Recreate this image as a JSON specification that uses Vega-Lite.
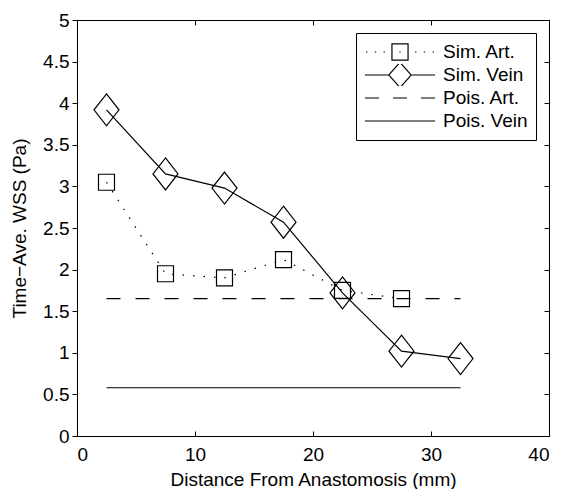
{
  "$schema": "https://vega.github.io/schema/vega-lite/v6.json",
  "width": 472,
  "height": 416,
  "autosize": {"type": "none"},
  "padding": {"left": 77, "top": 20, "right": 12, "bottom": 53},
  "background": "white",
  "config": {
    "view": {"stroke": "black", "strokeWidth": 1},
    "font": "Liberation Sans",
    "axis": {"grid": false, "domainColor": "black", "tickColor": "black", "labelColor": "black", "titleColor": "black", "labelFont": "Liberation Sans", "titleFont": "Liberation Sans", "labelFontSize": 19, "titleFontSize": 19, "titleFontWeight": "normal", "domainWidth": 1, "tickWidth": 1}
  },
  "data": {
    "values": [
      {"series": "Sim. Art.", "x": 2.5, "y": 3.05},
      {"series": "Sim. Art.", "x": 7.5, "y": 1.95},
      {"series": "Sim. Art.", "x": 12.5, "y": 1.9},
      {"series": "Sim. Art.", "x": 17.5, "y": 2.12},
      {"series": "Sim. Art.", "x": 22.5, "y": 1.75},
      {"series": "Sim. Art.", "x": 27.5, "y": 1.65},
      {"series": "Sim. Vein", "x": 2.5, "y": 3.92},
      {"series": "Sim. Vein", "x": 7.5, "y": 3.15},
      {"series": "Sim. Vein", "x": 12.5, "y": 2.98},
      {"series": "Sim. Vein", "x": 17.5, "y": 2.57},
      {"series": "Sim. Vein", "x": 22.5, "y": 1.72},
      {"series": "Sim. Vein", "x": 27.5, "y": 1.02},
      {"series": "Sim. Vein", "x": 32.5, "y": 0.93},
      {"series": "Pois. Art.", "x": 2.5, "y": 1.65},
      {"series": "Pois. Art.", "x": 32.5, "y": 1.65},
      {"series": "Pois. Vein", "x": 2.5, "y": 0.58},
      {"series": "Pois. Vein", "x": 32.5, "y": 0.58}
    ]
  },
  "resolve": {"axis": {"x": "independent", "y": "independent"}},
  "layer": [
    {
      "transform": [{"filter": "datum.series === 'Sim. Vein' || datum.series === 'Pois. Vein'"}],
      "mark": {"type": "line", "strokeWidth": 1.2},
      "encoding": {
        "x": {"field": "x", "type": "quantitative", "scale": {"domain": [0, 40], "nice": false, "zero": false},
              "axis": {"orient": "bottom", "values": [0, 10, 20, 30, 40], "format": "d", "tickSize": -5, "labelPadding": 14, "title": "Distance From Anastomosis (mm)", "titlePadding": 6}},
        "y": {"field": "y", "type": "quantitative", "scale": {"domain": [0, 5], "nice": false, "zero": false},
              "axis": {"orient": "left", "values": [0, 0.5, 1, 1.5, 2, 2.5, 3, 3.5, 4, 4.5, 5], "format": "~g", "tickSize": 5, "labelPadding": 3, "title": "Time−Ave. WSS (Pa)", "titlePadding": 13}},
        "stroke": {
          "field": "series", "type": "nominal",
          "scale": {"domain": ["Sim. Art.", "Sim. Vein", "Pois. Art.", "Pois. Vein"], "range": ["black", "black", "black", "black"]},
          "legend": {
            "title": null,
            "orient": "top-right",
            "offset": 13,
            "padding": 8,
            "fillColor": "white",
            "strokeColor": "black",
            "symbolSize": 4900,
            "clipHeight": 22,
            "rowPadding": 1,
            "labelOffset": 7,
            "labelFont": "Liberation Sans",
            "labelFontSize": 19,
            "labelColor": "black",
            "symbolStrokeWidth": 1.2,
            "encode": {
              "symbols": {
                "update": {
                  "shape": {"signal": "datum.value === 'Sim. Art.' ? 'M-0.97,0h0.04M-0.72,0h0.04M-0.47,0h0.04M-0.02,0h0.04M0.43,0h0.04M0.68,0h0.04M0.93,0h0.04M-0.23,-0.23H0.23V0.23H-0.23Z' : datum.value === 'Sim. Vein' ? 'M-1,0H-0.32M0.32,0H1M0,-0.36L0.32,0L0,0.36L-0.32,0Z' : datum.value === 'Pois. Art.' ? 'M-1,0H-0.6M-0.2,0H0.2M0.6,0H1' : 'M-1,0H1'"},
                  "fill": {"value": "transparent"},
                  "strokeWidth": {"value": 1.2},
                  "strokeDash": {"value": [1, 0]},
                  "size": {"value": 4900}
                }
              }
            }
          }
        }
      }
    },
    {
      "transform": [{"filter": "datum.series === 'Sim. Art.'"}],
      "mark": {"type": "line", "stroke": "black", "strokeWidth": 1.2, "strokeDash": [1.5, 9]},
      "encoding": {
        "x": {"field": "x", "type": "quantitative", "axis": null},
        "y": {"field": "y", "type": "quantitative", "axis": null}
      }
    },
    {
      "transform": [{"filter": "datum.series === 'Pois. Art.'"}],
      "mark": {"type": "line", "stroke": "black", "strokeWidth": 1.2, "strokeDash": [14, 15]},
      "encoding": {
        "x": {"field": "x", "type": "quantitative", "axis": null},
        "y": {"field": "y", "type": "quantitative", "axis": null}
      }
    },
    {
      "transform": [{"filter": "datum.series === 'Sim. Art.'"}],
      "mark": {"type": "point", "shape": "square", "size": 256, "filled": false, "stroke": "black", "strokeWidth": 1.2, "opacity": 1},
      "encoding": {
        "x": {"field": "x", "type": "quantitative", "axis": null},
        "y": {"field": "y", "type": "quantitative", "axis": null}
      }
    },
    {
      "transform": [{"filter": "datum.series === 'Sim. Vein'"}],
      "mark": {"type": "point", "shape": "M0,-1.28L1,0L0,1.28L-1,0Z", "size": 625, "filled": false, "stroke": "black", "strokeWidth": 1.2, "opacity": 1},
      "encoding": {
        "x": {"field": "x", "type": "quantitative",
              "axis": {"orient": "top", "values": [0, 10, 20, 30, 40], "tickSize": -5, "labels": false, "title": null}},
        "y": {"field": "y", "type": "quantitative",
              "axis": {"orient": "right", "values": [0, 0.5, 1, 1.5, 2, 2.5, 3, 3.5, 4, 4.5, 5], "tickSize": -5, "labels": false, "title": null}}
      }
    }
  ]
}
